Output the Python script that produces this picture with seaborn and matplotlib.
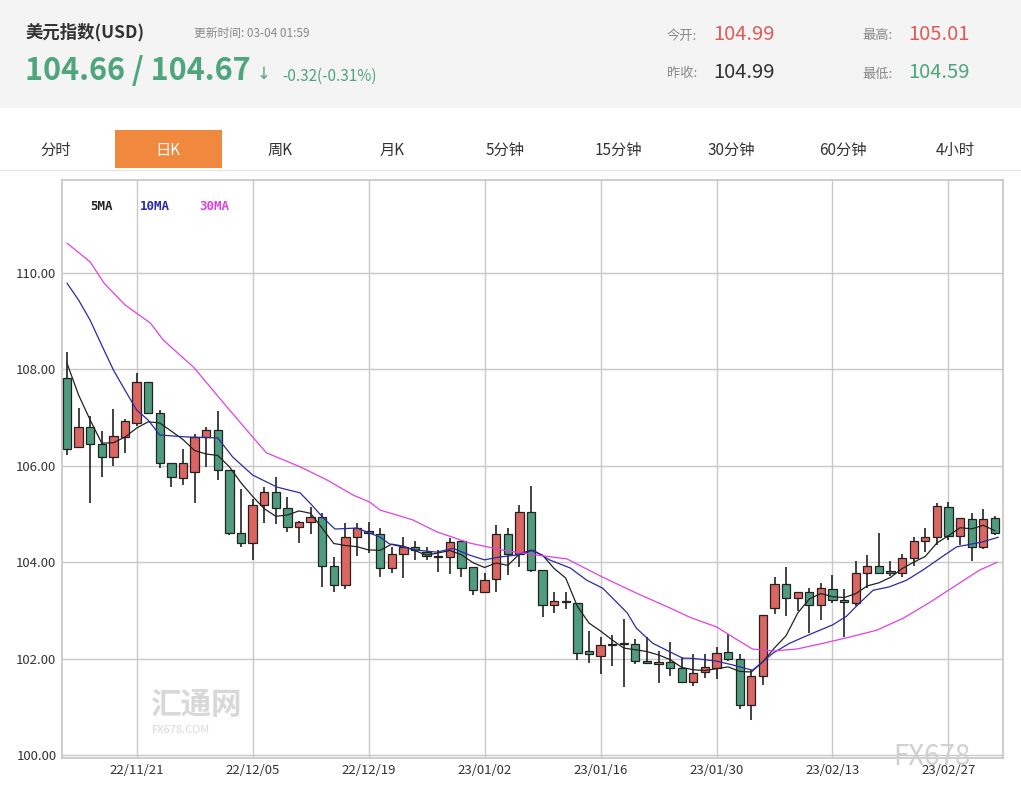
import matplotlib
matplotlib.use("Agg")
import matplotlib.pyplot as plt
import numpy as np
import pandas as pd
import seaborn as sns
from matplotlib.patches import Rectangle

sns.set_theme(style="white")
plt.rcParams["font.family"] = ["Noto Sans CJK SC", "DejaVu Sans"]

# daily candles, 22/11/11 .. 23/03/03
opens = [107.82, 106.39, 106.80, 106.45, 106.18, 106.60, 106.89, 107.74, 107.10, 106.06,
         105.75, 105.88, 106.60, 106.74, 105.91, 104.60, 104.40, 105.19, 105.46, 105.12,
         104.73, 104.83, 104.94, 103.92, 103.53, 104.52, 104.64, 104.58, 103.88, 104.17,
         104.31, 104.21, 104.13, 104.11, 104.44, 103.90, 103.38, 103.65, 104.58, 104.17,
         105.04, 103.84, 103.11, 103.19, 103.15, 102.16, 102.05, 102.29, 102.30, 102.30,
         101.95, 101.89, 101.93, 101.80, 101.51, 101.72, 101.80, 102.14, 101.99, 101.04,
         101.64, 103.05, 103.55, 103.26, 103.38, 103.11, 103.44, 103.22, 103.15, 103.78,
         103.92, 103.82, 103.78, 104.09, 104.44, 104.52, 105.15, 104.54, 104.90, 104.31,
         104.92]
closes = [106.35, 106.80, 106.45, 106.18, 106.62, 106.93, 107.74, 107.10, 106.06, 105.77,
          106.06, 106.60, 106.74, 105.91, 104.60, 104.40, 105.19, 105.46, 105.12, 104.73,
          104.83, 104.94, 103.92, 103.53, 104.52, 104.71, 104.60, 103.88, 104.17, 104.31,
          104.25, 104.13, 104.11, 104.42, 103.88, 103.42, 103.63, 104.58, 104.17, 105.04,
          103.84, 103.11, 103.20, 103.17, 102.12, 102.10, 102.28, 102.28, 102.32, 101.95,
          101.91, 101.93, 101.80, 101.51, 101.70, 101.83, 102.12, 101.99, 101.04, 101.64,
          102.90, 103.55, 103.26, 103.38, 103.11, 103.46, 103.22, 103.17, 103.78, 103.92,
          103.78, 103.78, 104.09, 104.44, 104.52, 105.17, 104.54, 104.92, 104.31, 104.90,
          104.60]
highs = [108.36, 107.20, 107.03, 106.72, 107.18, 106.97, 107.93, 107.74, 107.16, 106.06,
         106.35, 106.66, 106.80, 107.14, 105.91, 105.52, 105.31, 105.56, 105.77, 105.35,
         104.85, 105.15, 105.02, 104.10, 104.81, 104.81, 104.83, 104.71, 104.31, 104.52,
         104.44, 104.31, 104.25, 104.50, 104.44, 103.90, 103.78, 104.77, 104.71, 105.19,
         105.58, 103.84, 103.38, 103.38, 103.15, 102.57, 102.45, 102.49, 102.82, 102.41,
         102.45, 102.16, 102.34, 102.03, 102.10, 102.10, 102.24, 102.51, 102.10, 101.76,
         102.90, 103.69, 103.90, 103.38, 103.46, 103.57, 103.73, 103.44, 104.02, 104.15,
         104.61, 104.02, 104.17, 104.52, 104.71, 105.23, 105.25, 104.92, 105.02, 105.10,
         104.96]
lows = [106.22, 106.39, 105.23, 105.77, 106.00, 106.27, 106.83, 107.10, 105.95, 105.56,
        105.60, 105.23, 105.98, 105.70, 104.56, 104.32, 104.05, 104.81, 104.79, 104.63,
        104.40, 104.58, 103.49, 103.38, 103.44, 104.13, 104.20, 103.69, 103.78, 103.67,
        104.05, 104.05, 103.80, 103.76, 103.69, 103.32, 103.38, 103.38, 103.73, 103.90,
        103.80, 102.86, 102.95, 103.03, 101.97, 101.91, 101.68, 101.85, 101.41, 101.89,
        101.89, 101.49, 101.64, 101.49, 101.43, 101.60, 101.58, 101.95, 100.95, 100.73,
        101.45, 102.93, 102.88, 102.99, 102.53, 102.80, 103.15, 102.45, 103.09, 103.46,
        103.78, 103.71, 103.69, 103.92, 104.21, 104.36, 104.46, 104.36, 104.02, 104.27,
        104.56]
prior_closes = [110.10, 109.05, 108.58, 106.57]

# moving averages (candle index, value)
ma10_idx = [0, 1, 2, 3, 4, 5, 6, 7, 8.0, 10.3, 13, 14.3, 16.0, 18.1, 20.1, 21.1, 22.1, 23.1,
            25.0, 27.0, 27.8, 30.2, 31.9, 33.3, 34.7, 36.0, 37.3, 38.8, 40.2, 41.6, 43.4, 44.8,
            46.2, 48.3, 49.1, 50.5, 52.0, 53.1, 54.6, 53.7, 56.0, 57.4, 59.1, 60.9, 62.3, 64.3,
            66.0, 67.2, 68.4, 69.5, 70.9, 72.4, 73.8, 75.3, 76.7, 77.6, 78.9, 80.3]
ma10_val = [109.79, 109.44, 109.02, 108.50, 107.99, 107.57, 107.16, 106.95, 106.64, 106.60,
            106.58, 106.18, 105.81, 105.56, 105.44, 105.19, 104.92, 104.69, 104.71, 104.52,
            104.38, 104.25, 104.21, 104.29, 104.15, 104.05, 104.11, 104.15, 104.25, 104.05,
            103.88, 103.63, 103.46, 102.95, 102.63, 102.32, 102.14, 102.01, 101.99, 102.01,
            101.95, 101.87, 101.76, 102.12, 102.32, 102.53, 102.70, 102.88, 103.17, 103.42,
            103.49, 103.63, 103.84, 104.09, 104.32, 104.36, 104.42, 104.52]
ma30_idx = [0, 2.0, 3.2, 5.0, 7.2, 8.3, 10.9, 13.8, 16.0, 17.2, 20.1, 22.4, 24.7, 27.0,
            26.1, 27.6, 29.8, 31.9, 34.7, 37.6, 40.5, 43.1, 46.2, 49.1, 52.0, 54.6, 53.7,
            56.0, 57.8, 59.1, 60.9, 62.9, 65.2, 67.5, 69.8, 72.1, 74.4, 76.7, 78.7, 80.2]
ma30_val = [110.62, 110.23, 109.79, 109.34, 108.96, 108.61, 108.05, 107.22, 106.60, 106.27,
            105.98, 105.71, 105.39, 105.08, 105.25, 105.04, 104.88, 104.63, 104.40, 104.25,
            104.15, 104.07, 103.69, 103.36, 103.05, 102.78, 102.86, 102.66, 102.39, 102.20,
            102.16, 102.20, 102.32, 102.45, 102.59, 102.84, 103.17, 103.53, 103.84, 104.00]

date_ticks = [6, 16, 26, 36, 46, 56, 66, 76]
date_labels = ["22/11/21", "22/12/05", "22/12/19", "23/01/02", "23/01/16", "23/01/30",
               "23/02/13", "23/02/27"]
tabs = ["分时", "日K", "周K", "月K", "5分钟", "15分钟", "30分钟", "60分钟", "4小时"]

RED = "#db6560"
GREEN = "#4f9c7e"

df = pd.DataFrame({"open": opens, "close": closes, "high": highs, "low": lows})
df["idx"] = np.arange(len(df))
all_close = pd.Series(prior_closes + closes)
df["ma5"] = all_close.rolling(5).mean().iloc[len(prior_closes):].to_numpy()
ma10 = pd.DataFrame({"idx": ma10_idx, "val": ma10_val}).sort_values("idx")
ma30 = pd.DataFrame({"idx": ma30_idx, "val": ma30_val}).sort_values("idx")

fig = plt.figure(figsize=(10.21, 7.94), dpi=100)

# header
fig.patches.append(Rectangle((0, 794 - 108), 1021, 108, transform=None,
                             facecolor="#f4f4f4", edgecolor="none"))


def px(x, y):
    return x / 1021, 1 - y / 794


fig.text(*px(25, 32), "美元指数(USD)", fontsize=12.5, fontweight="bold", color="#333333", va="center")
fig.text(*px(194, 33), "更新时间: 03-04 01:59", fontsize=8.5, color="#888888", va="center")
fig.text(*px(25, 71), "104.66 / 104.67", fontsize=22, fontweight="bold", color="#4fa57c", va="center")
fig.text(*px(257, 74), "↓", fontsize=12, color="#4fa57c", va="center", family=["DejaVu Sans"])
fig.text(*px(282, 76), "-0.32(-0.31%)", fontsize=11, color="#4fa57c", va="center")
for x, y, lab, val, col in [(667, 36, "今开:", "104.99", "#e05a5a"),
                            (862, 36, "最高:", "105.01", "#e05a5a"),
                            (667, 74, "昨收:", "104.99", "#333333"),
                            (862, 74, "最低:", "104.59", "#4fa57c")]:
    fig.text(*px(x, y), lab, fontsize=9.5, color="#888888", va="center")
    fig.text(*px(x + 46, y - 2), val, fontsize=14.5, color=col, va="center")

# tabs
tab_x = [56, 168, 280, 392, 505, 618, 731, 843, 955]
fig.patches.append(Rectangle((115, 794 - 168), 107, 38, transform=None,
                             facecolor="#f0883e", edgecolor="none"))
for x, t in zip(tab_x, tabs):
    fig.text(*px(x, 150), t, fontsize=11, ha="center", va="center",
             color="white" if t == "日K" else "#333333")
fig.lines.append(plt.Line2D([0, 1], [1 - 170 / 794] * 2, transform=fig.transFigure,
                            color="#e6e6e6", lw=1))

ax = fig.add_axes([62 / 1021, 36 / 794, 941 / 1021, 578 / 794])
up = df["close"] >= df["open"]
colors = np.where(up, RED, GREEN)
ax.vlines(df["idx"], df["low"], df["high"], color="#222222", lw=1.2, zorder=2)
body_low = df[["open", "close"]].min(axis=1)
body_h = (df["close"] - df["open"]).abs().clip(lower=0.03)
ax.bar(df["idx"], body_h, bottom=body_low, width=0.72, color=colors,
       edgecolor="#222222", linewidth=0.9, zorder=3)

sns.lineplot(data=df, x="idx", y="ma5", ax=ax, color="#222222", lw=0.9, zorder=4)
sns.lineplot(data=ma10, x="idx", y="val", ax=ax, color="#2a2aa8", lw=0.9, zorder=4)
sns.lineplot(data=ma30, x="idx", y="val", ax=ax, color="#e040e0", lw=0.9, zorder=4)

ax.set_xlim(-0.43, 80.7)
ax.set_ylim(99.94, 111.93)
ax.set_yticks(np.arange(100, 111, 2))
ax.set_yticklabels([f"{v:.2f}" for v in np.arange(100, 111, 2)], fontsize=9.5, color="#333333")
ax.set_xticks(date_ticks)
ax.set_xticklabels(date_labels, fontsize=9.5, color="#333333")
ax.set_xlabel("")
ax.set_ylabel("")
ax.grid(True, color="#c8c8c8", lw=1)
ax.tick_params(length=0, pad=4)
for s in ax.spines.values():
    s.set_color("#c8c8c8")

ax.text(0.03, 0.955, "5MA", transform=ax.transAxes, fontsize=9, color="#222222",
        family=["DejaVu Sans Mono"], fontweight="bold", va="center")
ax.text(0.083, 0.955, "10MA", transform=ax.transAxes, fontsize=9, color="#2a2aa8",
        family=["DejaVu Sans Mono"], fontweight="bold", va="center")
ax.text(0.146, 0.955, "30MA", transform=ax.transAxes, fontsize=9, color="#e040e0",
        family=["DejaVu Sans Mono"], fontweight="bold", va="center")

# watermarks
fig.text(*px(150, 705), "汇通网", fontsize=22, fontweight="bold", color="#d8d8d8", va="center")
fig.text(*px(152, 730), "FX678.COM", fontsize=8, color="#d8d8d8", va="center")
fig.text(*px(893, 757), "FX678", fontsize=20, color="#d0d0d0", va="center", style="italic")

fig.savefig("out.png", dpi=100)
